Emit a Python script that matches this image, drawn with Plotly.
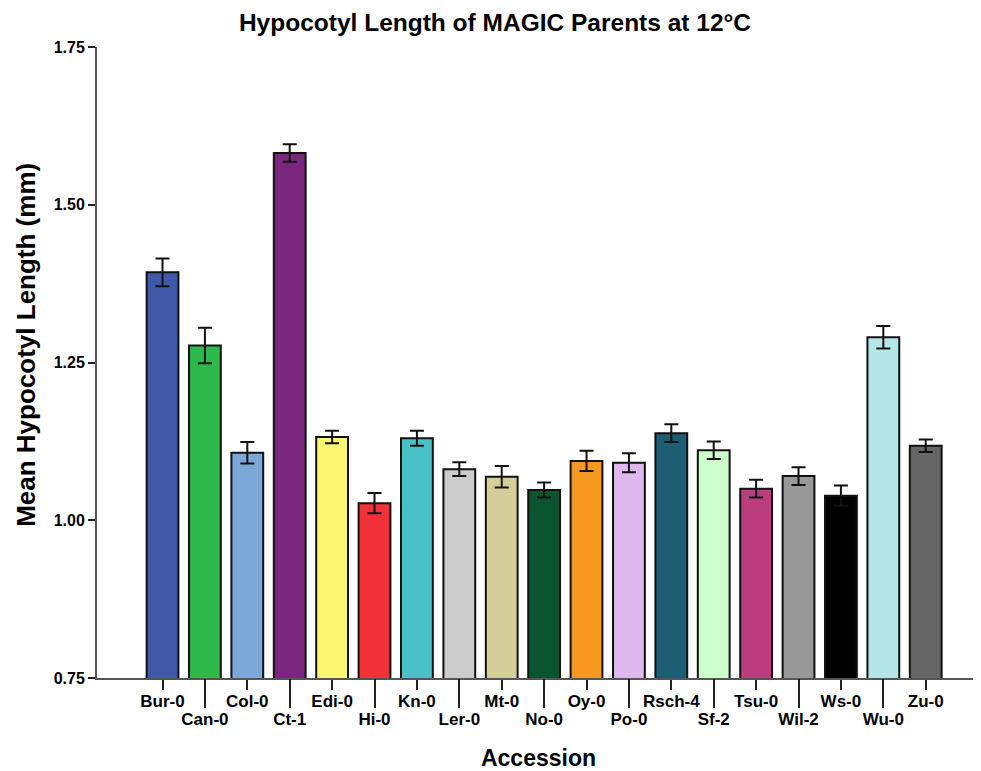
import plotly.graph_objects as go

accessions = ["Bur-0", "Can-0", "Col-0", "Ct-1", "Edi-0", "Hi-0", "Kn-0", "Ler-0", "Mt-0", "No-0",
              "Oy-0", "Po-0", "Rsch-4", "Sf-2", "Tsu-0", "Wil-2", "Ws-0", "Wu-0", "Zu-0"]
mean_length = [1.393, 1.277, 1.107, 1.582, 1.132, 1.027, 1.130, 1.081, 1.069, 1.048,
               1.094, 1.091, 1.138, 1.111, 1.050, 1.070, 1.039, 1.290, 1.118]
sem = [0.022, 0.028, 0.017, 0.014, 0.010, 0.016, 0.012, 0.011, 0.017, 0.012,
       0.016, 0.015, 0.014, 0.014, 0.014, 0.014, 0.016, 0.018, 0.010]
colors = ["#3F58A8", "#2DB84B", "#7BA8D6", "#7B267E", "#FAF76E", "#F2323A", "#48C2C6", "#CCCCCC",
          "#D4CF98", "#0A5530", "#F7981F", "#DEB8EE", "#1D5E74", "#CCFFCC", "#BA3E7E", "#999999",
          "#000000", "#B4E6E8", "#666666"]
y_ticks = [0.75, 1.00, 1.25, 1.50, 1.75]

idx = list(range(len(accessions)))
even = idx[0::2]
odd = idx[1::2]

FONT = "Liberation Sans"

fig = go.Figure()
fig.add_trace(go.Bar(
    x=idx, y=mean_length, marker=dict(color=colors, line=dict(color="#111111", width=2)),
    width=0.75,
    error_y=dict(type="data", array=sem, visible=True, color="#111111", thickness=2, width=7),
    hoverinfo="x+y", showlegend=False,
))
# invisible helper trace so the second (staggered-label) axis is drawn
fig.add_trace(go.Scatter(
    x=odd, y=[mean_length[i] for i in odd], xaxis="x2", mode="markers",
    marker=dict(opacity=0), hoverinfo="skip", showlegend=False,
))

xr = [-1.545, 19.28]
fig.update_layout(
    width=973, height=763,
    margin=dict(l=89, r=1, t=39, b=93),
    plot_bgcolor="white", paper_bgcolor="white",
    title=dict(text="<b>Hypocotyl Length of MAGIC Parents at 12°C</b>", x=0.5005, xanchor="center",
               y=0.9805, yanchor="middle", font=dict(family=FONT, size=24.5, color="black")),
    xaxis=dict(range=xr, tickmode="array", tickvals=even,
               ticktext=["<b>%s</b>" % accessions[i] for i in even],
               ticks="outside", ticklen=10, tickwidth=2, tickcolor="#222222",
               ticklabelstandoff=-3,
               showline=True, linecolor="#555555", linewidth=2, showgrid=False, zeroline=False,
               tickfont=dict(family=FONT, size=17, color="black"),
               title=dict(text="<b>Accession</b>", font=dict(family=FONT, size=23, color="black"), standoff=43)),
    xaxis2=dict(range=xr, overlaying="x", side="bottom", anchor="y", tickmode="array", tickvals=odd,
                ticktext=["<b>%s</b>" % accessions[i] for i in odd],
                ticks="outside", ticklen=29, tickwidth=2, tickcolor="#222222",
                ticklabelstandoff=-3,
                showline=False, showgrid=False, zeroline=False,
                tickfont=dict(family=FONT, size=17, color="black")),
    yaxis=dict(range=[0.75, 1.75], tickmode="array", tickvals=y_ticks,
               ticktext=["<b>%.2f</b>" % v for v in y_ticks],
               ticks="outside", ticklen=7, tickwidth=2, tickcolor="#222222",
               showline=True, linecolor="#555555", linewidth=2, showgrid=False, zeroline=False,
               tickfont=dict(family=FONT, size=16, color="black")),
    annotations=[dict(text="<b>Mean Hypocotyl Length (mm)</b>", textangle=-90, xref="paper", yref="paper",
                      x=-0.0804, y=0.528, xanchor="center", yanchor="middle", showarrow=False,
                      font=dict(family=FONT, size=26, color="black"))],
)

fig.write_html("out.html")
